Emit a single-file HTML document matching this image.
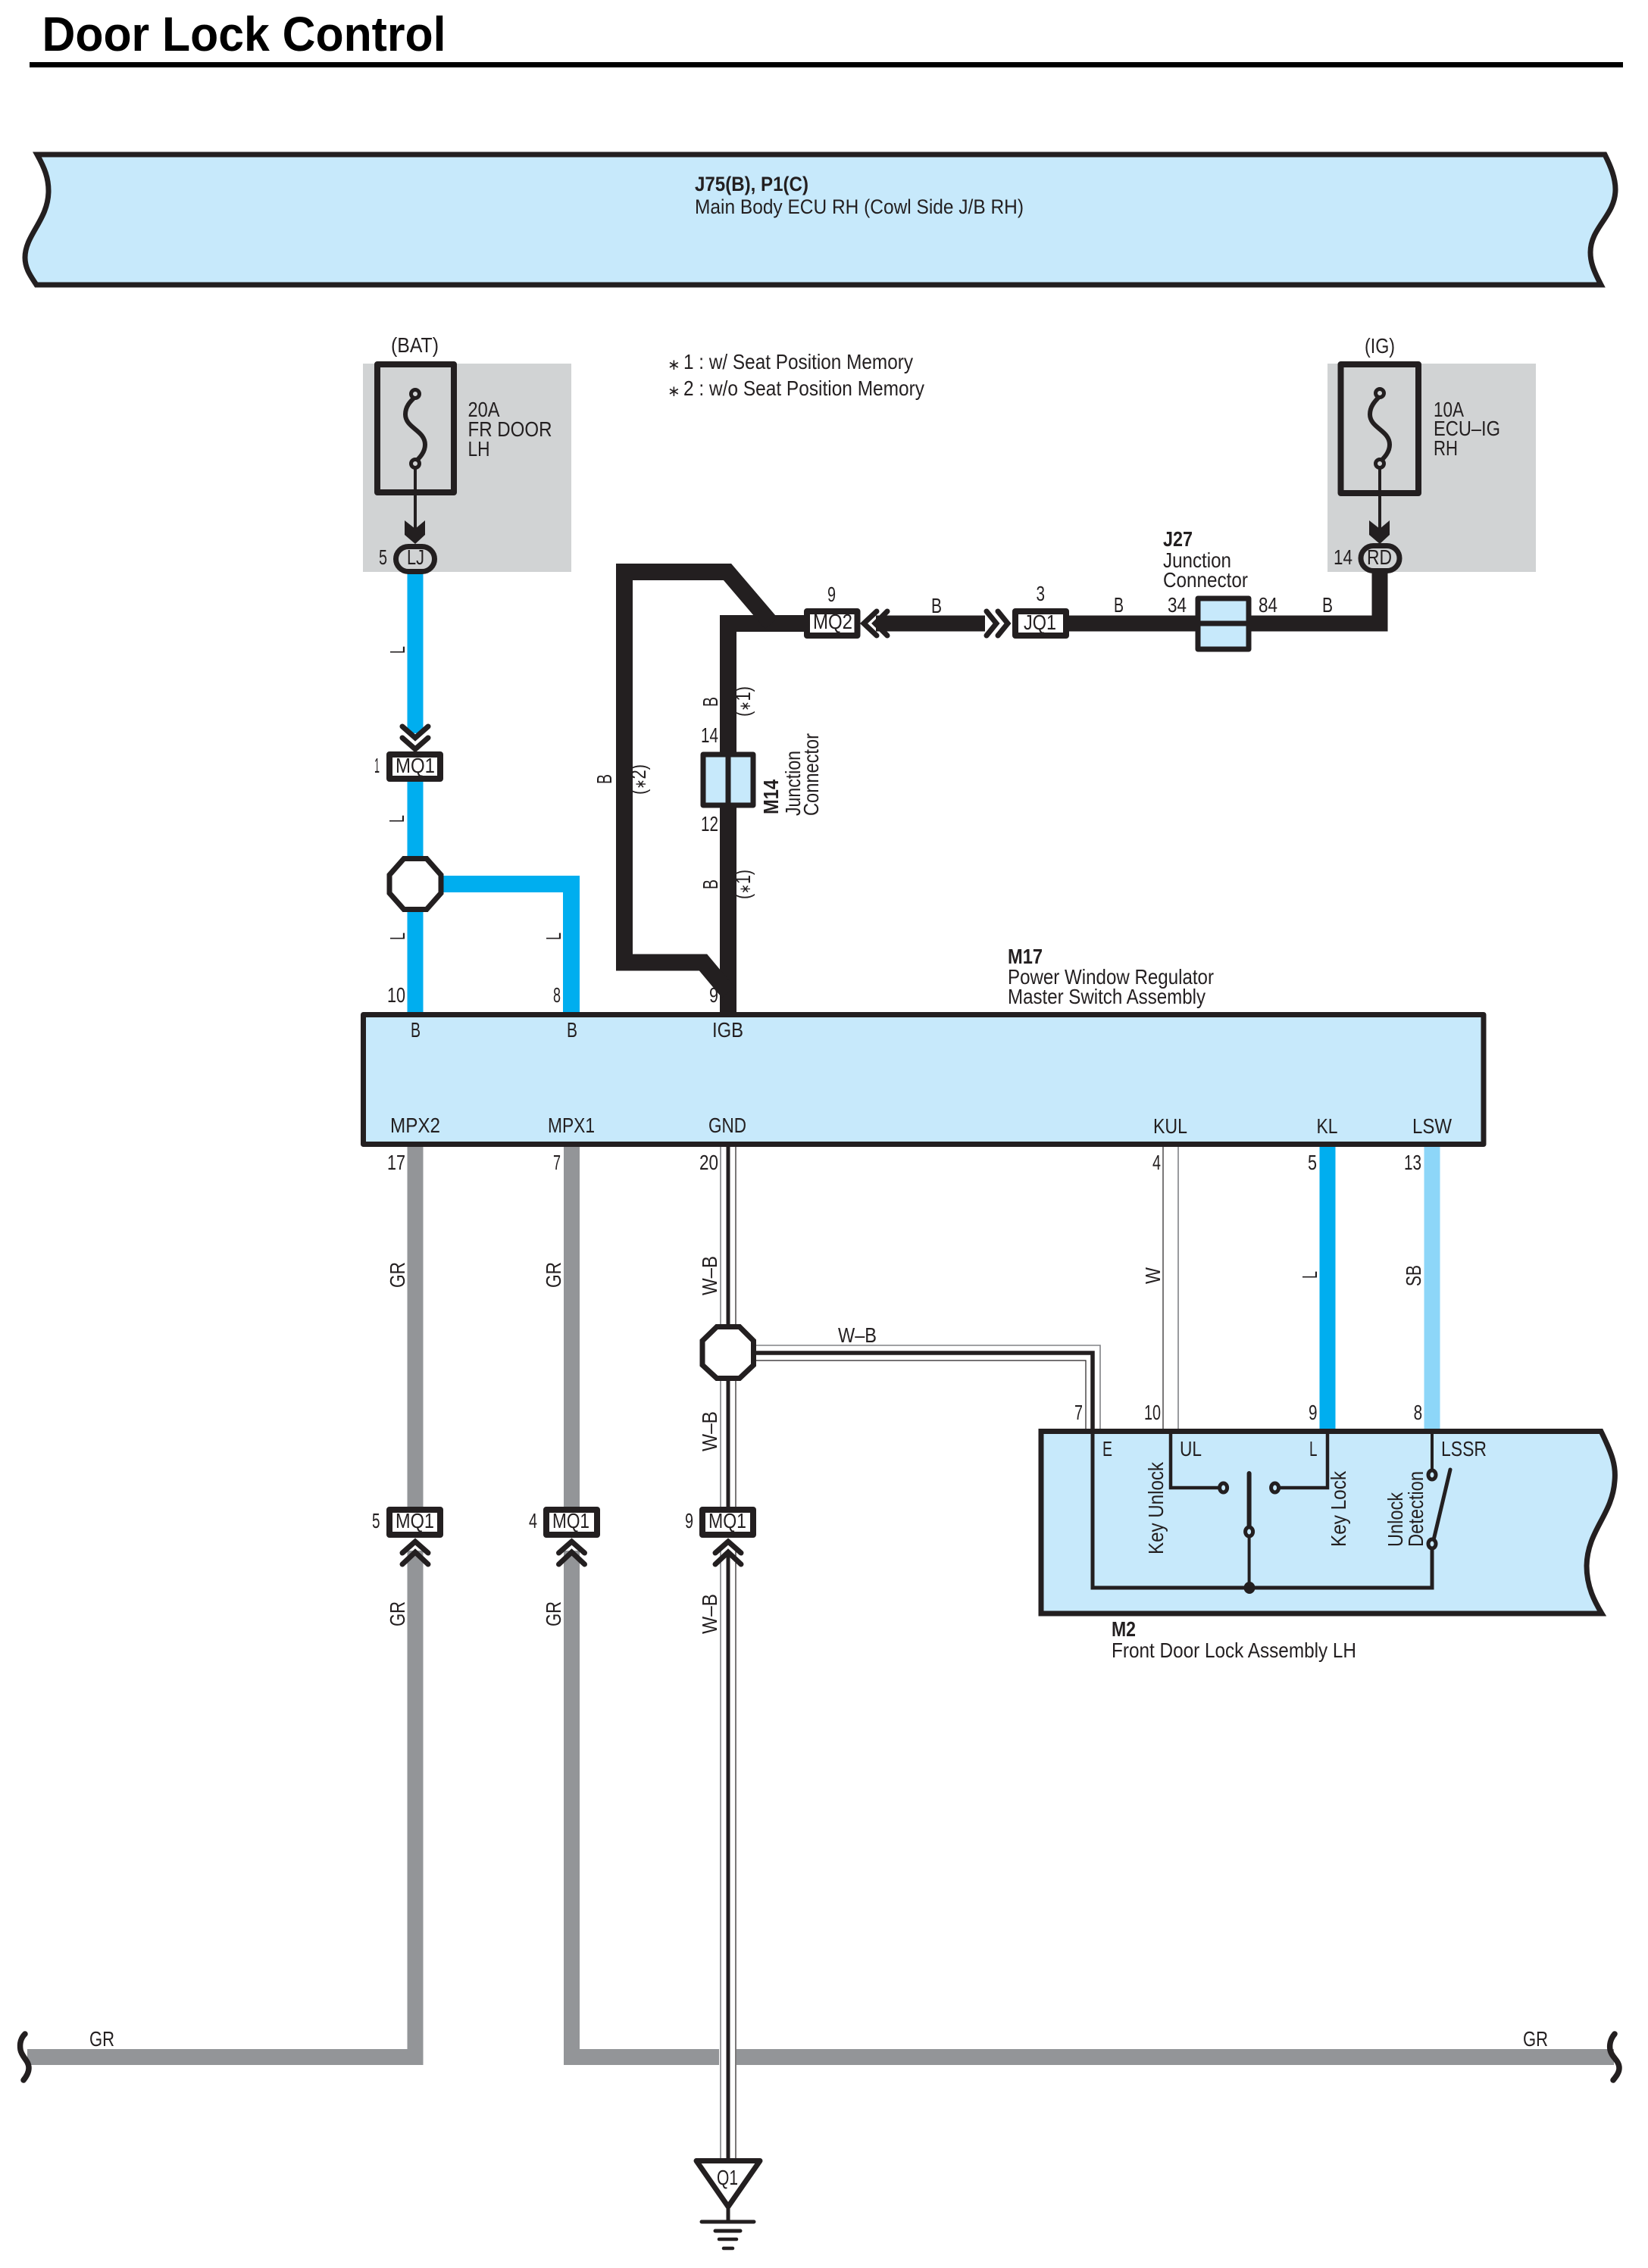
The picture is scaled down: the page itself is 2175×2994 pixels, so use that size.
<!DOCTYPE html>
<html><head><meta charset="utf-8"><title>Door Lock Control</title>
<style>
html,body{margin:0;padding:0;background:#fff}
svg{display:block}
text{font-family:"Liberation Sans",Arial,sans-serif;font-size:28px;fill:#231f20}
.b{font-weight:bold}
.s{font-size:20px}
</style></head><body>
<svg xmlns="http://www.w3.org/2000/svg" width="2175" height="2994" viewBox="0 0 2175 2994">
<rect width="2175" height="2994" fill="#fff"/>

<!-- title -->
<text x="55.5" y="67" class="b" style="font-size:64px;fill:#000" textLength="533" lengthAdjust="spacingAndGlyphs">Door Lock Control</text>
<rect x="39" y="82" width="2103" height="7" fill="#000"/>

<!-- top ECU -->
<path d="M49,204 C59,222 64,235 64,252 C64,290 33,310 33,340 C33,355 41,365 48,376 L2113,376 C2102,355 2099,345 2099,333 C2099,300 2132,285 2132,250 C2132,235 2126,220 2118,204 Z" fill="#c7e9fb" stroke="#231f20" stroke-width="7"/>
<text x="917" y="252" class="b" textLength="150" lengthAdjust="spacingAndGlyphs" style="font-weight:bold;font-size:27px">J75(B), P1(C)</text>
<text x="917" y="282" textLength="434" lengthAdjust="spacingAndGlyphs" style="font-size:27px">Main Body ECU RH (Cowl Side J/B RH)</text>

<!-- grey fuse blocks -->
<rect x="479" y="480" width="275" height="275" fill="#d1d3d4"/>
<rect x="1752" y="480" width="275" height="275" fill="#d1d3d4"/>

<!-- wires -->
<g fill="none" stroke-linejoin="miter">
  <!-- blue L -->
  <line x1="548" y1="755" x2="548" y2="968" stroke="#00aeef" stroke-width="21"/>
  <line x1="548" y1="1030" x2="548" y2="1340" stroke="#00aeef" stroke-width="21"/>
  <path d="M580,1167 H754 V1340" stroke="#00aeef" stroke-width="22"/>
  <line x1="1752" y1="1510" x2="1752" y2="1890" stroke="#00aeef" stroke-width="21"/>
  <line x1="1890" y1="1510" x2="1890" y2="1890" stroke="#8dd6f8" stroke-width="21"/>
  <!-- black B -->
  <path d="M961,1340 V823 H1065" stroke="#231f20" stroke-width="22"/>
  <path d="M1018,823 L960,755 H824 V1270.5 H928 L961,1310" stroke="#231f20" stroke-width="22"/>
  <line x1="1156" y1="823" x2="1300" y2="823" stroke="#231f20" stroke-width="21"/>
  <line x1="1408" y1="823" x2="1580" y2="823" stroke="#231f20" stroke-width="21"/>
  <path d="M1650,823 H1821 V750" stroke="#231f20" stroke-width="21"/>
  <!-- grey GR -->
  <line x1="548" y1="1510" x2="548" y2="1992" stroke="#939598" stroke-width="21"/>
  <line x1="754.5" y1="1510" x2="754.5" y2="1992" stroke="#939598" stroke-width="21"/>
  <path d="M548,2047 V2715.5 H36" stroke="#939598" stroke-width="21"/>
  <path d="M754.5,2047 V2715.5 H949" stroke="#939598" stroke-width="21"/>
  <line x1="972" y1="2715.5" x2="2130" y2="2715.5" stroke="#939598" stroke-width="21"/>
  <!-- W-B vertical -->
  <line x1="951" y1="1510" x2="951" y2="1992" stroke="#808285" stroke-width="1.6"/>
  <line x1="971" y1="1510" x2="971" y2="1992" stroke="#231f20" stroke-width="1.2"/>
  <line x1="961" y1="1510" x2="961" y2="1992" stroke="#231f20" stroke-width="5"/>
  <line x1="951" y1="2047" x2="951" y2="2852" stroke="#808285" stroke-width="1.6"/>
  <line x1="971" y1="2047" x2="971" y2="2852" stroke="#231f20" stroke-width="1.2"/>
  <line x1="961" y1="2047" x2="961" y2="2852" stroke="#231f20" stroke-width="5"/>
  <!-- W-B horizontal -->
  <path d="M990,1776 H1452 V1890" stroke="#808285" stroke-width="1.6"/>
  <path d="M990,1796 H1433 V1890" stroke="#231f20" stroke-width="1.2"/>
  <path d="M990,1786 H1442 V1890" stroke="#231f20" stroke-width="5.5"/>
  <!-- W (KUL) -->
  <line x1="1535" y1="1510" x2="1535" y2="1890" stroke="#231f20" stroke-width="1.2"/>
  <line x1="1555" y1="1510" x2="1555" y2="1890" stroke="#808285" stroke-width="1.6"/>
</g>

<!-- fuses -->
<g fill="none" stroke="#231f20">
  <rect x="498" y="481" width="101" height="169" stroke-width="8" stroke-linejoin="round"/>
  <path d="M548,524 C541,530 535,537 535,547 C535,565 561,568 561,587 C561,597 554,604 548,610" stroke-width="6"/>
  <circle cx="548" cy="520" r="5.5" stroke-width="5" fill="#d1d3d4"/>
  <circle cx="548" cy="612" r="5.5" stroke-width="5" fill="#d1d3d4"/>
  <line x1="548" y1="618" x2="548" y2="700" stroke-width="4"/>
  <rect x="1769.5" y="481" width="102.5" height="170" stroke-width="8" stroke-linejoin="round"/>
  <path d="M1821,523 C1814,530 1808,537 1808,547 C1808,565 1834,568 1834,587 C1834,597 1827,604 1821,610" stroke-width="6"/>
  <circle cx="1821" cy="519" r="5.5" stroke-width="5" fill="#d1d3d4"/>
  <circle cx="1821" cy="612" r="5.5" stroke-width="5" fill="#d1d3d4"/>
  <line x1="1821" y1="618" x2="1821" y2="700" stroke-width="4"/>
</g>
<polygon points="534,687 548,698 561,687 561,706 548,718 534,706" fill="#231f20"/>
<polygon points="1807,687 1821,698 1834,687 1834,706 1821,718 1807,706" fill="#231f20"/>
<rect x="522.5" y="721.5" width="51" height="33" rx="16.5" fill="#d1d3d4" stroke="#231f20" stroke-width="7"/>
<rect x="1796" y="720.5" width="51" height="33" rx="16.5" fill="#d1d3d4" stroke="#231f20" stroke-width="7"/>

<!-- chevrons -->
<g fill="none" stroke="#231f20" stroke-width="7" stroke-linecap="round" stroke-linejoin="miter">
  <polyline points="531,959 548,974 565,959"/><polyline points="531,974 548,989 565,974"/>
  <polyline points="1157,807 1140,823 1157,839"/><polyline points="1171,807 1155,823 1171,839"/>
  <polyline points="1302,807 1315,823 1302,839"/><polyline points="1317,807 1330,823 1317,839"/>
  <polyline points="531,2050 548,2035 565,2050"/><polyline points="531,2065 548,2049 565,2065"/>
  <polyline points="737.5,2050 754.5,2035 771.5,2050"/><polyline points="737.5,2065 754.5,2049 771.5,2065"/>
  <polyline points="944,2050 961,2035 978,2050"/><polyline points="944,2065 961,2049 978,2065"/>
</g>

<!-- connector boxes -->
<g fill="#fff" stroke="#231f20" stroke-width="8" stroke-linejoin="round">
  <rect x="514" y="996" width="67" height="32"/>
  <rect x="1065" y="807" width="66.5" height="32"/>
  <rect x="1340" y="807" width="67" height="32"/>
  <rect x="514" y="1993" width="67" height="33"/>
  <rect x="721" y="1993" width="67" height="33"/>
  <rect x="927" y="1993" width="67" height="33"/>
</g>
<!-- junction connectors -->
<g fill="#c7e9fb" stroke="#231f20" stroke-width="7" stroke-linejoin="round">
  <rect x="928" y="996" width="66" height="67"/>
  <line x1="961" y1="996" x2="961" y2="1063"/>
  <rect x="1581" y="790" width="67" height="67"/>
  <line x1="1581" y1="823" x2="1648" y2="823"/>
</g>

<!-- splice octagons -->
<polygon points="533,1133.5 563,1133.5 582,1155 582,1179 563,1200.5 533,1200.5 514,1179 514,1155" fill="#fff" stroke="#231f20" stroke-width="7"/>
<polygon points="946,1751.5 976,1751.5 994.5,1770 994.5,1802 976,1819.5 946,1819.5 927,1802 927,1770" fill="#fff" stroke="#231f20" stroke-width="7"/>

<!-- M17 -->
<rect x="479.5" y="1339.5" width="1478.5" height="171" fill="#c7e9fb" stroke="#231f20" stroke-width="7" stroke-linejoin="round"/>

<!-- M2 -->
<path d="M1374,1889.5 H2113 C2128,1920 2133,1935 2131,1955 C2128,2000 2095,2020 2094,2067 C2094,2095 2105,2115 2114,2130 H1374 Z" fill="#c7e9fb" stroke="#231f20" stroke-width="7"/>
<g fill="none" stroke="#231f20">
  <path d="M1442,1893 V2096 H1890 V2044" stroke-width="5"/>
  <path d="M1545,1893 V1964 H1608" stroke-width="4.5"/>
  <path d="M1752,1893 V1964 H1689" stroke-width="4.5"/>
  <line x1="1890" y1="1893" x2="1890" y2="1940" stroke-width="4"/>
  <line x1="1648.6" y1="1945" x2="1648.6" y2="2016" stroke-width="6" stroke-linecap="round"/>
  <line x1="1648.6" y1="2028" x2="1648.6" y2="2096" stroke-width="4"/>
  <line x1="1914" y1="1940" x2="1892" y2="2033" stroke-width="5" stroke-linecap="round"/>
  <ellipse cx="1614.6" cy="1964" rx="5" ry="6" stroke-width="5" fill="#c7e9fb"/>
  <ellipse cx="1682.6" cy="1964" rx="5" ry="6" stroke-width="5" fill="#c7e9fb"/>
  <ellipse cx="1648.6" cy="2022" rx="5" ry="6" stroke-width="5" fill="#c7e9fb"/>
  <ellipse cx="1890" cy="1947" rx="5" ry="6" stroke-width="5" fill="#c7e9fb"/>
  <ellipse cx="1890" cy="2038" rx="5" ry="6" stroke-width="5" fill="#c7e9fb"/>
</g>
<ellipse cx="1649" cy="2096" rx="7.5" ry="8" fill="#231f20"/>

<!-- bus ends -->
<g fill="none" stroke="#231f20" stroke-width="7.5" stroke-linecap="round">
  <path d="M33,2685 C26,2692 26,2700 27,2706 C29,2716 38,2720 38,2730 C38,2736 35,2741 31,2746"/>
  <path d="M2131,2685 C2125,2692 2124,2700 2125,2706 C2127,2716 2137,2720 2137,2730 C2137,2736 2133,2741 2129,2746"/>
</g>

<!-- ground -->
<polygon points="919,2852.5 1003,2852.5 961,2913" fill="#fff" stroke="#231f20" stroke-width="7" stroke-linejoin="round"/>
<g stroke="#231f20" stroke-linecap="round">
  <line x1="961" y1="2912" x2="961" y2="2933" stroke-width="5"/>
  <line x1="926" y1="2933" x2="995" y2="2933" stroke-width="5"/>
  <line x1="944" y1="2945" x2="977" y2="2945" stroke-width="5"/>
  <line x1="949" y1="2956" x2="972" y2="2956" stroke-width="4.5"/>
  <line x1="955" y1="2968" x2="967" y2="2968" stroke-width="4.5"/>
</g>
<text x="946" y="2884" textLength="28" lengthAdjust="spacingAndGlyphs">Q1</text>

<!-- horizontal labels -->
<g>
<text x="516" y="465" textLength="63" lengthAdjust="spacingAndGlyphs">(BAT)</text>
<text x="1801" y="466" textLength="40" lengthAdjust="spacingAndGlyphs">(IG)</text>
<text x="617.5" y="550" textLength="42" lengthAdjust="spacingAndGlyphs">20A</text>
<text x="617.5" y="576" textLength="111" lengthAdjust="spacingAndGlyphs">FR DOOR</text>
<text x="617.5" y="602" textLength="29" lengthAdjust="spacingAndGlyphs">LH</text>
<text x="1892" y="550" textLength="40" lengthAdjust="spacingAndGlyphs">10A</text>
<text x="1892" y="575" textLength="88" lengthAdjust="spacingAndGlyphs">ECU–IG</text>
<text x="1892" y="601" textLength="32" lengthAdjust="spacingAndGlyphs">RH</text>
<text x="881" y="488" class="s">∗</text>
<text x="902" y="487" textLength="303" lengthAdjust="spacingAndGlyphs">1 : w/ Seat Position Memory</text>
<text x="881" y="523" class="s">∗</text>
<text x="902" y="522" textLength="318" lengthAdjust="spacingAndGlyphs">2 : w/o Seat Position Memory</text>
<text x="500" y="745" textLength="11" lengthAdjust="spacingAndGlyphs">5</text>
<text x="537" y="745" textLength="23" lengthAdjust="spacingAndGlyphs">LJ</text>
<text x="1760" y="745" textLength="25" lengthAdjust="spacingAndGlyphs">14</text>
<text x="1804" y="745" textLength="33" lengthAdjust="spacingAndGlyphs">RD</text>
<text x="1092" y="794" textLength="11" lengthAdjust="spacingAndGlyphs">9</text>
<text x="1073" y="830" textLength="52" lengthAdjust="spacingAndGlyphs">MQ2</text>
<text x="1229" y="809" textLength="14" lengthAdjust="spacingAndGlyphs">B</text>
<text x="1367.5" y="793" textLength="11.5" lengthAdjust="spacingAndGlyphs">3</text>
<text x="1351" y="831" textLength="43" lengthAdjust="spacingAndGlyphs">JQ1</text>
<text x="1470" y="808" textLength="13" lengthAdjust="spacingAndGlyphs">B</text>
<text x="1541" y="808" textLength="25" lengthAdjust="spacingAndGlyphs">34</text>
<text x="1661" y="808" textLength="25" lengthAdjust="spacingAndGlyphs">84</text>
<text x="1745" y="808" textLength="14" lengthAdjust="spacingAndGlyphs">B</text>
<text x="1535" y="721" class="b" textLength="39" lengthAdjust="spacingAndGlyphs">J27</text>
<text x="1535" y="749" textLength="90" lengthAdjust="spacingAndGlyphs">Junction</text>
<text x="1535" y="775" textLength="112" lengthAdjust="spacingAndGlyphs">Connector</text>
<text x="494" y="1020" textLength="7" lengthAdjust="spacingAndGlyphs">1</text>
<text x="522" y="1020" textLength="52" lengthAdjust="spacingAndGlyphs">MQ1</text>
<text x="925" y="980" textLength="23" lengthAdjust="spacingAndGlyphs">14</text>
<text x="925" y="1097" textLength="23" lengthAdjust="spacingAndGlyphs">12</text>
<text x="1330" y="1272" class="b" textLength="46" lengthAdjust="spacingAndGlyphs">M17</text>
<text x="1330" y="1299" textLength="272" lengthAdjust="spacingAndGlyphs">Power Window Regulator</text>
<text x="1330" y="1325" textLength="261" lengthAdjust="spacingAndGlyphs">Master Switch Assembly</text>
<text x="511" y="1323" textLength="24" lengthAdjust="spacingAndGlyphs">10</text>
<text x="730" y="1323" textLength="10" lengthAdjust="spacingAndGlyphs">8</text>
<text x="936" y="1323" textLength="12" lengthAdjust="spacingAndGlyphs">9</text>
<text x="542" y="1369" textLength="13" lengthAdjust="spacingAndGlyphs">B</text>
<text x="748" y="1369" textLength="14" lengthAdjust="spacingAndGlyphs">B</text>
<text x="940" y="1369" textLength="41" lengthAdjust="spacingAndGlyphs">IGB</text>
<text x="515" y="1495" textLength="66" lengthAdjust="spacingAndGlyphs">MPX2</text>
<text x="723" y="1495" textLength="62" lengthAdjust="spacingAndGlyphs">MPX1</text>
<text x="935" y="1495" textLength="50" lengthAdjust="spacingAndGlyphs">GND</text>
<text x="1522" y="1496" textLength="45" lengthAdjust="spacingAndGlyphs">KUL</text>
<text x="1737.5" y="1496" textLength="28" lengthAdjust="spacingAndGlyphs">KL</text>
<text x="1864" y="1496" textLength="52" lengthAdjust="spacingAndGlyphs">LSW</text>
<text x="511" y="1544" textLength="24" lengthAdjust="spacingAndGlyphs">17</text>
<text x="730" y="1544" textLength="10" lengthAdjust="spacingAndGlyphs">7</text>
<text x="923" y="1544" textLength="25" lengthAdjust="spacingAndGlyphs">20</text>
<text x="1521" y="1544" textLength="11" lengthAdjust="spacingAndGlyphs">4</text>
<text x="1726" y="1544" textLength="12" lengthAdjust="spacingAndGlyphs">5</text>
<text x="1853" y="1544" textLength="23" lengthAdjust="spacingAndGlyphs">13</text>
<text x="1106" y="1772" textLength="51" lengthAdjust="spacingAndGlyphs">W–B</text>
<text x="1418" y="1874" textLength="11" lengthAdjust="spacingAndGlyphs">7</text>
<text x="1510" y="1874" textLength="22" lengthAdjust="spacingAndGlyphs">10</text>
<text x="1727" y="1874" textLength="11.5" lengthAdjust="spacingAndGlyphs">9</text>
<text x="1865.6" y="1874" textLength="11.5" lengthAdjust="spacingAndGlyphs">8</text>
<text x="1455" y="1922" textLength="13" lengthAdjust="spacingAndGlyphs">E</text>
<text x="1557" y="1922" textLength="29" lengthAdjust="spacingAndGlyphs">UL</text>
<text x="1728" y="1922" textLength="10.5" lengthAdjust="spacingAndGlyphs">L</text>
<text x="1902" y="1922" textLength="60" lengthAdjust="spacingAndGlyphs">LSSR</text>
<text x="491" y="2017" textLength="10.5" lengthAdjust="spacingAndGlyphs">5</text>
<text x="522" y="2017" textLength="51" lengthAdjust="spacingAndGlyphs">MQ1</text>
<text x="698" y="2017" textLength="11" lengthAdjust="spacingAndGlyphs">4</text>
<text x="729" y="2017" textLength="49" lengthAdjust="spacingAndGlyphs">MQ1</text>
<text x="904" y="2017" textLength="11" lengthAdjust="spacingAndGlyphs">9</text>
<text x="935" y="2017" textLength="50" lengthAdjust="spacingAndGlyphs">MQ1</text>
<text x="1467" y="2160" class="b" textLength="32" lengthAdjust="spacingAndGlyphs">M2</text>
<text x="1467" y="2188" textLength="323" lengthAdjust="spacingAndGlyphs">Front Door Lock Assembly LH</text>
<text x="118" y="2701" textLength="33" lengthAdjust="spacingAndGlyphs">GR</text>
<text x="2010" y="2701" textLength="33" lengthAdjust="spacingAndGlyphs">GR</text>
</g>

<!-- rotated labels -->
<g>
<text transform="translate(534 863) rotate(-90)" textLength="10" lengthAdjust="spacingAndGlyphs">L</text>
<text transform="translate(533 1086) rotate(-90)" textLength="10" lengthAdjust="spacingAndGlyphs">L</text>
<text transform="translate(534 1241) rotate(-90)" textLength="10" lengthAdjust="spacingAndGlyphs">L</text>
<text transform="translate(740 1241) rotate(-90)" textLength="10" lengthAdjust="spacingAndGlyphs">L</text>
<text transform="translate(947 933) rotate(-90)" textLength="13" lengthAdjust="spacingAndGlyphs">B</text>
<text transform="translate(990 946) rotate(-90)" textLength="40" lengthAdjust="spacingAndGlyphs">(<tspan class="s">∗</tspan>1)</text>
<text transform="translate(947 1174) rotate(-90)" textLength="13" lengthAdjust="spacingAndGlyphs">B</text>
<text transform="translate(990 1187) rotate(-90)" textLength="39" lengthAdjust="spacingAndGlyphs">(<tspan class="s">∗</tspan>1)</text>
<text transform="translate(807 1035) rotate(-90)" textLength="13" lengthAdjust="spacingAndGlyphs">B</text>
<text transform="translate(852 1049) rotate(-90)" textLength="40" lengthAdjust="spacingAndGlyphs">(<tspan class="s">∗</tspan>2)</text>
<text transform="translate(1027 1075) rotate(-90)" class="b" textLength="46" lengthAdjust="spacingAndGlyphs">M14</text>
<text transform="translate(1056 1077) rotate(-90)" textLength="86" lengthAdjust="spacingAndGlyphs">Junction</text>
<text transform="translate(1080 1077) rotate(-90)" textLength="109" lengthAdjust="spacingAndGlyphs">Connector</text>
<text transform="translate(534 1700) rotate(-90)" textLength="34" lengthAdjust="spacingAndGlyphs">GR</text>
<text transform="translate(740 1700) rotate(-90)" textLength="34" lengthAdjust="spacingAndGlyphs">GR</text>
<text transform="translate(534 2147) rotate(-90)" textLength="33" lengthAdjust="spacingAndGlyphs">GR</text>
<text transform="translate(740 2147) rotate(-90)" textLength="33" lengthAdjust="spacingAndGlyphs">GR</text>
<text transform="translate(946 1710) rotate(-90)" textLength="52" lengthAdjust="spacingAndGlyphs">W–B</text>
<text transform="translate(946 1916) rotate(-90)" textLength="53" lengthAdjust="spacingAndGlyphs">W–B</text>
<text transform="translate(946 2157) rotate(-90)" textLength="53" lengthAdjust="spacingAndGlyphs">W–B</text>
<text transform="translate(1531 1695) rotate(-90)" textLength="22" lengthAdjust="spacingAndGlyphs">W</text>
<text transform="translate(1738 1688) rotate(-90)" textLength="10" lengthAdjust="spacingAndGlyphs">L</text>
<text transform="translate(1875 1698) rotate(-90)" textLength="28" lengthAdjust="spacingAndGlyphs">SB</text>
<text transform="translate(1535 2052) rotate(-90)" textLength="122" lengthAdjust="spacingAndGlyphs">Key Unlock</text>
<text transform="translate(1776 2042) rotate(-90)" textLength="100" lengthAdjust="spacingAndGlyphs">Key Lock</text>
<text transform="translate(1851 2042) rotate(-90)" textLength="72" lengthAdjust="spacingAndGlyphs">Unlock</text>
<text transform="translate(1878 2042) rotate(-90)" textLength="100" lengthAdjust="spacingAndGlyphs">Detection</text>
</g>
</svg>
</body></html>
